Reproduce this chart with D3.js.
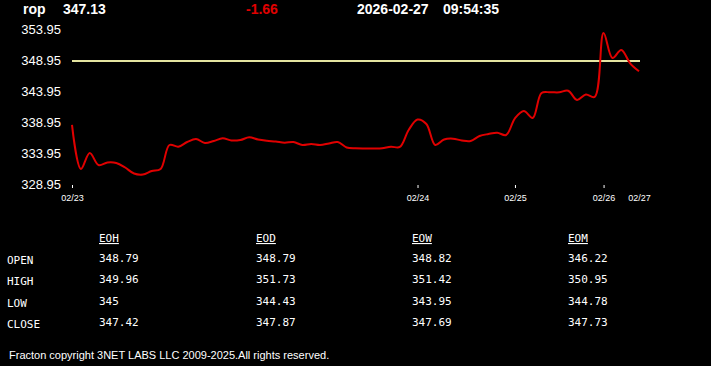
<!DOCTYPE html>
<html>
<head>
<meta charset="utf-8">
<script src="https://cdn.jsdelivr.net/npm/d3@7"></script>
<style>
  body { margin: 0; background: #000; }
  svg { display: block; }
</style>
</head>
<body>
<script>
const width = 711;
const height = 366;

// header
const symbol = "rop";
const lastPrice = "347.13";
const change = "-1.66";
const quoteDate = "2026-02-27";
const quoteTime = "09:54:35";
const refPrice = 348.79;

// price line, one value per sample
const prices = [
  338.47, 331.37, 333.95, 332.01, 332.42, 332.34, 331.61, 330.64, 330.48, 331.05,
  331.37, 335.24, 334.97, 335.72, 336.21, 335.56, 335.89, 336.32, 335.97, 336.05,
  336.48, 336.13, 335.93, 335.80, 335.61, 335.72, 335.24, 335.40, 335.24, 335.48,
  335.72, 334.84, 334.71, 334.68, 334.68, 334.71, 334.97, 334.92, 337.66, 339.35,
  338.63, 335.24, 336.13, 336.26, 335.97, 335.89, 336.69, 337.01, 337.22, 336.85,
  339.55, 340.72, 339.60, 343.63, 343.74, 343.74, 344.00, 342.50, 343.39, 343.00,
  353.30, 349.27, 350.56, 348.42, 347.13
];
const dayIdx = [0, 39, 50, 60, 64];
const dayLabels = ["02/23", "02/24", "02/25", "02/26", "02/27"];
const yTicks = [328.95, 333.95, 338.95, 343.95, 348.95, 353.95];

// summary table
const rowLabels = ["OPEN", "HIGH", "LOW", "CLOSE"];
const colLabels = ["EOH", "EOD", "EOW", "EOM"];
const eoh = ["348.79", "349.96", "345", "347.42"];
const eod = ["348.79", "351.73", "344.43", "347.87"];
const eow = ["348.82", "351.42", "343.95", "347.69"];
const eom = ["346.22", "350.95", "344.78", "347.73"];
const footer = "Fracton copyright 3NET LABS LLC 2009-2025.All rights reserved.";

const svg = d3.select("body").append("svg")
  .attr("width", width)
  .attr("height", height);

svg.append("rect").attr("width", width).attr("height", height).attr("fill", "#000");

const hdr = svg.append("g")
  .style("font-family", "'Liberation Sans', Arial, sans-serif")
  .style("font-size", "14px")
  .style("font-weight", "bold");
hdr.append("text").attr("x", 23).attr("y", 14).attr("fill", "#fff").text(symbol);
hdr.append("text").attr("x", 63).attr("y", 14).attr("fill", "#fff").text(lastPrice);
hdr.append("text").attr("x", 246).attr("y", 14).attr("fill", "#e00000").text(change);
hdr.append("text").attr("x", 357).attr("y", 14).attr("fill", "#fff").text(quoteDate);
hdr.append("text").attr("x", 443).attr("y", 14).attr("fill", "#fff").text(quoteTime);

const x = d3.scaleLinear()
  .domain([0, prices.length - 1])
  .range([72, 639]);

const y = d3.scaleLinear()
  .domain([328.95, 353.95])
  .range([184, 29]);

const yAxis = svg.append("g")
  .attr("transform", "translate(61,0)")
  .call(d3.axisLeft(y).tickValues(yTicks).tickSize(0).tickPadding(0).tickFormat(d3.format(".2f")));
yAxis.select(".domain").remove();
yAxis.selectAll("text")
  .attr("fill", "#fff")
  .style("font-family", "'Liberation Sans', Arial, sans-serif")
  .style("font-size", "13px");

const xAxis = svg.append("g")
  .attr("transform", "translate(0,185)")
  .call(d3.axisBottom(x).tickValues(dayIdx).tickSize(3).tickPadding(7)
    .tickFormat((d, i) => dayLabels[i]));
xAxis.select(".domain").remove();
xAxis.selectAll("line").attr("stroke", "#fff");
xAxis.selectAll(".tick").filter((d, i) => i === dayIdx.length - 1).select("line").remove();
xAxis.selectAll("text")
  .attr("fill", "#fff")
  .style("font-family", "'Liberation Sans', Arial, sans-serif")
  .style("font-size", "9px");

// reference line
svg.append("line")
  .attr("x1", x(0)).attr("x2", x(prices.length - 1) + 1)
  .attr("y1", y(refPrice)).attr("y2", y(refPrice))
  .attr("stroke", "#e4e4a0")
  .attr("stroke-width", 2);

const line = d3.line()
  .x((d, i) => x(i))
  .y(d => y(d))
  .curve(d3.curveCatmullRom.alpha(0.5));

svg.append("path")
  .datum(prices)
  .attr("d", line)
  .attr("fill", "none")
  .attr("stroke", "#e00000")
  .attr("stroke-width", 2);

// table
const colX = [99, 256, 412, 568];
const rowY = [264, 285, 306.5, 328];
const cols = [eoh, eod, eow, eom];
const tbl = svg.append("g")
  .style("font-family", "'DejaVu Sans Mono', monospace")
  .style("font-size", "11px")
  .attr("fill", "#fff");

tbl.selectAll(".hd").data(colLabels).enter().append("text")
  .attr("x", (d, i) => colX[i]).attr("y", 242)
  .style("text-decoration", "underline")
  .text(d => d);

tbl.selectAll(".rl").data(rowLabels).enter().append("text")
  .attr("x", 7).attr("y", (d, i) => rowY[i])
  .text(d => d);

cols.forEach((c, ci) => {
  tbl.selectAll(".c" + ci).data(c).enter().append("text")
    .attr("x", colX[ci]).attr("y", (d, i) => rowY[i] - 2)
    .text(d => d);
});

svg.append("text")
  .attr("x", 9).attr("y", 359)
  .attr("fill", "#fff")
  .style("font-family", "'Liberation Sans', Arial, sans-serif")
  .style("font-size", "11px")
  .text(footer);
</script>
</body>
</html>
